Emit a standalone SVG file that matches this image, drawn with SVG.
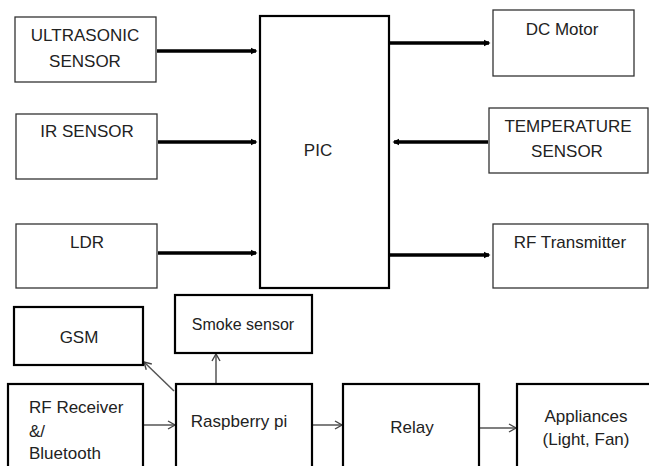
<svg xmlns="http://www.w3.org/2000/svg" width="649" height="466" viewBox="0 0 649 466">
<style>
text{font-family:"Liberation Sans",Arial,sans-serif;font-size:17px;fill:#222;text-anchor:middle}
.thin{fill:#fff;stroke:#333;stroke-width:1.3}
.thick{fill:#fff;stroke:#000;stroke-width:2.2}
.big{fill:none;stroke:#000;stroke-width:3.5}
.small{fill:none;stroke:#555;stroke-width:1.5}
</style>
<defs>
<marker id="ah" markerWidth="8" markerHeight="8" refX="5" refY="4" orient="auto" markerUnits="userSpaceOnUse" viewBox="0 0 8 8">
<path d="M0,0.8 L6.5,4 L0,7.2 Z" fill="#000"/>
</marker>
<marker id="oa" markerWidth="10" markerHeight="10" refX="8" refY="5" orient="auto" markerUnits="userSpaceOnUse" viewBox="0 0 10 10">
<path d="M1,1 L8,5 L1,9" fill="none" stroke="#444" stroke-width="1.4"/>
</marker>
</defs>
<rect width="649" height="466" fill="#fff"/>
<g id="connectors">
<line class="big" x1="157" y1="51" x2="256" y2="51" marker-end="url(#ah)"/>
<line class="big" x1="158" y1="142" x2="256" y2="142" marker-end="url(#ah)"/>
<line class="big" x1="158" y1="253" x2="256" y2="253" marker-end="url(#ah)"/>
<line class="big" x1="390" y1="43" x2="489" y2="43" marker-end="url(#ah)"/>
<line class="big" x1="488" y1="142" x2="394" y2="142" marker-end="url(#ah)"/>
<line class="big" x1="390" y1="255" x2="489" y2="255" marker-end="url(#ah)"/>
<line class="small" x1="174" y1="391" x2="144" y2="362" marker-end="url(#oa)" stroke="#333" stroke-width="1.3"/>
<line class="small" x1="216" y1="392" x2="216" y2="354" marker-end="url(#oa)" stroke="#333" stroke-width="1.3"/>
<line class="small" x1="144" y1="425" x2="175" y2="425" marker-end="url(#oa)"/>
<line class="small" x1="313" y1="425" x2="342" y2="425" marker-end="url(#oa)"/>
<line class="small" x1="480" y1="428" x2="516" y2="428" marker-end="url(#oa)"/>
</g>
<g id="ultrasonic"><rect class="thin" x="15" y="17" width="141" height="65"/><text x="85" y="41">ULTRASONIC</text><text x="85" y="67">SENSOR</text></g>
<g id="ir"><rect class="thin" x="16" y="114" width="141" height="65"/><text x="87" y="137">IR SENSOR</text></g>
<g id="ldr"><rect class="thin" x="16" y="224" width="141" height="64"/><text x="87" y="248">LDR</text></g>
<g id="pic"><rect class="thick" x="260" y="16" width="129" height="272"/><text x="318" y="156">PIC</text></g>
<g id="dcmotor"><rect class="thin" x="493" y="10" width="141" height="66"/><text x="562" y="35">DC Motor</text></g>
<g id="temp"><rect class="thin" x="489" y="108" width="159" height="65"/><text x="568" y="132">TEMPERATURE</text><text x="567" y="157">SENSOR</text></g>
<g id="rftx"><rect class="thin" x="493" y="224" width="155" height="64"/><text x="570" y="248">RF Transmitter</text></g>
<g id="gsm"><rect class="thick" x="14" y="307" width="129" height="58"/><text x="79" y="343">GSM</text></g>
<g id="smoke"><rect class="thick" x="175" y="295" width="137" height="58"/><text x="243" y="330" style="font-size:16px">Smoke sensor</text></g>
<g id="rfrx"><rect class="thick" x="8" y="384" width="135" height="90"/><text x="29" y="413" style="text-anchor:start">RF Receiver</text><text x="29" y="437" style="text-anchor:start">&amp;/</text><text x="29" y="459" style="text-anchor:start">Bluetooth</text></g>
<g id="raspberry"><rect class="thick" x="176" y="384" width="136" height="90"/><text x="239" y="427">Raspberry pi</text></g>
<g id="relay"><rect class="thick" x="343" y="384" width="136" height="90"/><text x="412" y="433">Relay</text></g>
<g id="appliances"><rect class="thick" x="517" y="384" width="140" height="90"/><text x="586" y="422">Appliances</text><text x="586" y="445">(Light, Fan)</text></g>
</svg>
